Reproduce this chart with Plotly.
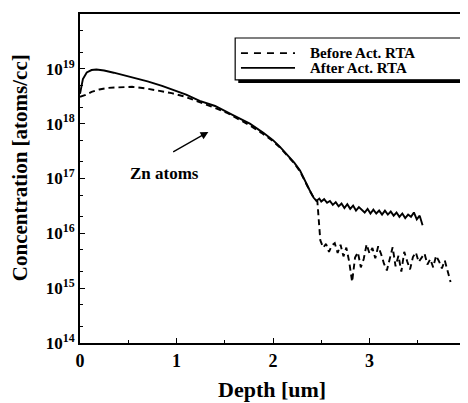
import plotly.graph_objects as go

# ---- data ----
after_depth = [0, 0.03, 0.07, 0.12, 0.17, 0.25, 0.35, 0.45, 0.57, 0.7, 0.85, 0.98,
               1.1, 1.24, 1.4, 1.58, 1.76, 1.9, 2.0, 2.07, 2.15, 2.22, 2.28, 2.33,
               2.38, 2.42, 2.45,
               2.48, 2.5, 2.53, 2.56, 2.59, 2.62, 2.65, 2.68, 2.71, 2.74, 2.77, 2.8,
               2.83, 2.86, 2.89, 2.92, 2.95, 2.98, 3.01, 3.04, 3.07, 3.1, 3.13, 3.16,
               3.19, 3.22, 3.25, 3.28, 3.31, 3.34, 3.37, 3.4, 3.43, 3.46, 3.49, 3.52, 3.55]
after_conc = [3.5e18, 6.5e18, 8.6e18, 9.5e18, 9.7e18, 9.3e18, 8.5e18, 7.7e18, 6.8e18,
              5.9e18, 4.9e18, 4.1e18, 3.4e18, 2.6e18, 2.1e18, 1.45e18, 1.0e18, 6.8e17,
              5.0e17, 3.8e17, 2.7e17, 1.95e17, 1.4e17, 9e16, 6.1e16, 4.5e16, 3.9e16,
              4.3e16, 3.8e16, 4.2e16, 3.6e16, 3.9e16, 3.3e16, 3.7e16, 3.1e16, 3.5e16,
              2.9e16, 3.4e16, 2.8e16, 3.2e16, 2.6e16, 3.0e16, 2.7e16, 2.4e16, 2.8e16,
              2.3e16, 2.7e16, 2.3e16, 2.6e16, 2.2e16, 2.6e16, 2.2e16, 2.5e16, 2.1e16,
              2.4e16, 2.0e16, 2.3e16, 1.9e16, 2.2e16, 2.0e16, 2.4e16, 1.8e16, 2.1e16, 1.4e16]

before_depth = [0, 0.05, 0.12, 0.2, 0.29, 0.4, 0.54, 0.68, 0.81, 0.95, 1.09, 1.2, 1.33,
                1.43, 1.53, 1.65, 1.76, 1.88, 2.0, 2.07, 2.15, 2.22, 2.28, 2.33, 2.38,
                2.42, 2.46, 2.47, 2.48, 2.49,
                2.52, 2.55, 2.58, 2.61, 2.64, 2.67, 2.7, 2.73, 2.76, 2.79, 2.82, 2.85,
                2.88, 2.91, 2.94, 2.97, 3.0, 3.03, 3.06, 3.09, 3.12, 3.15, 3.18, 3.21,
                3.24, 3.27, 3.3, 3.33, 3.36, 3.39, 3.42, 3.45, 3.48, 3.51, 3.54, 3.57,
                3.6, 3.63, 3.66, 3.69, 3.72, 3.75, 3.78, 3.81, 3.84]
before_conc = [3.1e18, 3.3e18, 3.8e18, 4.2e18, 4.5e18, 4.65e18, 4.7e18, 4.4e18, 4.0e18,
               3.6e18, 3.1e18, 2.65e18, 2.2e18, 1.85e18, 1.55e18, 1.2e18, 9.3e17, 6.8e17,
               4.8e17, 3.7e17, 2.65e17, 1.9e17, 1.35e17, 8.8e16, 6e16, 4.5e16, 3.8e16,
               2.2e16, 1.2e16, 7.5e15,
               5.5e15, 6.4e15, 4.6e15, 6.0e15, 6.6e15, 4.4e15, 6.2e15, 3.8e15, 5.5e15,
               3.0e15, 1.3e15, 3.6e15, 4.5e15, 2.4e15, 3.4e15, 6.3e15, 4.3e15, 5.4e15,
               3.5e15, 5.8e15, 4.2e15, 2.8e15, 2.1e15, 3.4e15, 5.6e15, 2.5e15, 3.9e15,
               2.0e15, 4.6e15, 3.1e15, 2.2e15, 3.7e15, 4.5e15, 3.0e15, 3.6e15, 4.3e15,
               2.7e15, 3.4e15, 2.4e15, 3.9e15, 3.1e15, 2.3e15, 3.2e15, 2.0e15, 1.3e15]

series_names = ["Before Act. RTA", "After Act. RTA"]
series_dash = ["6px,4px", "solid"]

ytick_vals = [1e14, 1e15, 1e16, 1e17, 1e18, 1e19, 1e20]
ytick_text = ["10<sup>14</sup>", "10<sup>15</sup>", "10<sup>16</sup>", "10<sup>17</sup>",
              "10<sup>18</sup>", "10<sup>19</sup>", "10<sup>20</sup>"]
xtick_vals = [0, 1, 2, 3, 4]
xtick_text = ["0", "1", "2", "3", "4"]

FONT = "Liberation Serif"

fig = go.Figure()
fig.add_trace(go.Scatter(x=before_depth, y=before_conc, mode="lines",
                         name=series_names[0], showlegend=False,
                         line=dict(color="black", width=1.9, dash=series_dash[0])))
fig.add_trace(go.Scatter(x=after_depth, y=after_conc, mode="lines",
                         name=series_names[1], showlegend=False,
                         line=dict(color="black", width=1.9, dash=series_dash[1])))

# legend box with drop shadow (paper coords of plot area)
fig.add_shape(type="rect", xref="paper", yref="paper",
              x0=0.41, x1=0.998, y0=0.79, y1=0.917,
              fillcolor="black", line=dict(width=0), layer="above")
fig.add_shape(type="rect", xref="paper", yref="paper",
              x0=0.402, x1=0.99, y0=0.80, y1=0.927,
              fillcolor="white", line=dict(color="black", width=1.2), layer="above")
legend_rows_y = [0.881, 0.836]
for name, dash, ly in zip(series_names, ["7px,6px", "solid"], legend_rows_y):
    fig.add_shape(type="line", xref="paper", yref="paper",
                  x0=0.417, x1=0.557, y0=ly, y1=ly, layer="above",
                  line=dict(color="black", width=1.8, dash=dash))
    fig.add_annotation(x=0.59, y=ly, xref="paper", yref="paper", text=name,
                       showarrow=False, xanchor="left", yanchor="middle",
                       font=dict(family=FONT, size=15, color="black", weight="bold"))

fig.add_annotation(x=0.88, y=17.1, xref="x", yref="y", text="<b>Zn atoms</b>",
                   showarrow=False, font=dict(family=FONT, size=17, color="black"))
fig.add_annotation(x=1.33, y=17.85, ax=0.95, ay=17.47, xref="x", yref="y",
                   axref="x", ayref="y", text="", showarrow=True,
                   font=dict(size=1),
                   arrowhead=2, arrowsize=1.2, arrowwidth=1.3, arrowcolor="black")

# axis titles
fig.add_annotation(x=0.497, y=-0.14, xref="paper", yref="paper",
                   text="<b>Depth [um]</b>", showarrow=False,
                   xanchor="center", yanchor="middle",
                   font=dict(family=FONT, size=22, color="black"))
fig.add_annotation(x=-0.155, y=0.532, xref="paper", yref="paper",
                   text="<b>Concentration [atoms/cc]</b>", showarrow=False,
                   textangle=-90, xanchor="center", yanchor="middle",
                   font=dict(family=FONT, size=21, color="black"))

fig.update_layout(
    width=460, height=395,
    margin=dict(l=72, r=2, t=6, b=60),
    plot_bgcolor="white", paper_bgcolor="white",
    font=dict(family=FONT, color="black", size=16),
    showlegend=False,
)
fig.update_xaxes(range=[0, 4], tickvals=xtick_vals, ticktext=xtick_text,
                 automargin=False,
                 showgrid=False, zeroline=False, showline=True, mirror=True,
                 linecolor="black", linewidth=2, ticks="inside", ticklen=5,
                 tickcolor="black",
                 minor=dict(tickvals=[0.5, 1.5, 2.5, 3.5], ticks="inside", ticklen=3,
                            tickcolor="black"),
                 tickfont=dict(family=FONT, size=18, weight="bold"))
fig.update_yaxes(type="log", range=[14, 20], tickvals=ytick_vals, ticktext=ytick_text,
                 automargin=False,
                 showgrid=False, zeroline=False, showline=True, mirror=True,
                 linecolor="black", linewidth=2, ticks="inside", ticklen=5,
                 tickcolor="black",
                 minor=dict(ticks="inside", ticklen=3, tickcolor="black", showgrid=False),
                 tickfont=dict(family=FONT, size=17, weight="bold"))

fig.write_html("out.html")
